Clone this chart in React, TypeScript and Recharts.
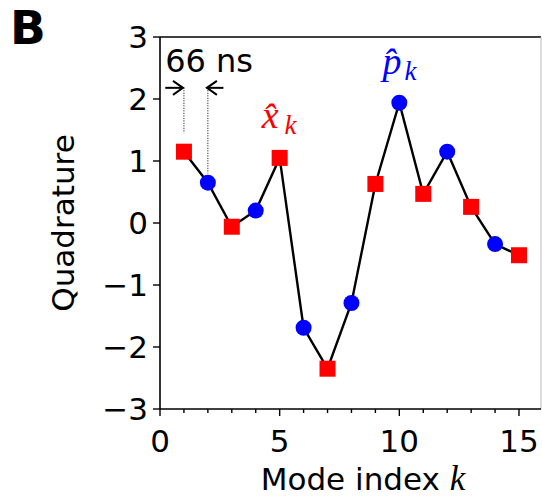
import {
  Line,
  LineChart,
  ReferenceDot,
  ReferenceLine,
  XAxis,
  YAxis,
} from "recharts";

// Mode index k and measured quadrature (odd k -> x̂, even k -> p̂)
const modeIndex = [1, 2, 3, 4, 5, 6, 7, 8, 9, 10, 11, 12, 13, 14, 15];
const quadrature = [
  1.15, 0.65, -0.06, 0.2, 1.05, -1.69, -2.35, -1.29, 0.63, 1.94, 0.47, 1.15,
  0.26, -0.34, -0.52,
];
const xTicks = [0, 1, 2, 3, 4, 5, 6, 7, 8, 9, 10, 11, 12, 13, 14, 15];
const xLabels = [0, 5, 10, 15];
const yTicks = [-3, -2, -1, 0, 1, 2, 3];

const SANS = "'DejaVu Sans', sans-serif";
const SERIF = "'Liberation Serif', 'DejaVu Serif', serif";
const RED = "#ff0000";
const BLUE = "#0000ff";

const data = modeIndex.map((k, i) => ({ k, q: quadrature[i] }));

const fmt = (v: number) => (v < 0 ? `\u2212${Math.abs(v)}` : `${v}`);

function XTick(props: any) {
  const { x, y, payload } = props;
  const major = xLabels.includes(payload.value);
  return (
    <g>
      <line x1={x} x2={x} y1={y} y2={y + (major ? 7 : 4)} stroke="#000" strokeWidth={1.4} />
      {major && (
        <text x={x} y={y + 43} textAnchor="middle" fontSize={31} fontFamily={SANS} fill="#000">
          {payload.value}
        </text>
      )}
    </g>
  );
}

function YTick(props: any) {
  const { x, y, payload } = props;
  return (
    <g>
      <line x1={x - 7} x2={x} y1={y} y2={y} stroke="#000" strokeWidth={1.4} />
      <text x={x - 12} y={y + 11} textAnchor="end" fontSize={31} fontFamily={SANS} fill="#000">
        {fmt(payload.value)}
      </text>
    </g>
  );
}

function Marker(props: any) {
  const { cx, cy, payload } = props;
  if (cx == null || cy == null) return <g key={`m-${payload.k}`} />;
  if (payload.k % 2 === 1) {
    return <rect key={`m-${payload.k}`} x={cx - 8} y={cy - 8} width={16} height={16} fill={RED} />;
  }
  return <circle key={`m-${payload.k}`} cx={cx} cy={cy} r={8} fill={BLUE} />;
}

const arrowRight = (p: any) => (
  <path d={`M${p.cx - 10},${p.cy - 7} L${p.cx},${p.cy} L${p.cx - 10},${p.cy + 7}`} fill="none" stroke="#000" strokeWidth={2} />
);
const arrowLeft = (p: any) => (
  <path d={`M${p.cx + 10},${p.cy - 7} L${p.cx},${p.cy} L${p.cx + 10},${p.cy + 7}`} fill="none" stroke="#000" strokeWidth={2} />
);

export default function App() {
  return (
    <div style={{ position: "absolute", left: 0, top: 0, width: 542, height: 500, background: "#fff" }}>
      <LineChart width={542} height={500} data={data} margin={{ top: 37, right: 1, bottom: 0, left: 0 }}>
        <XAxis
          dataKey="k"
          type="number"
          domain={[0, 15.92]}
          ticks={xTicks}
          interval={0}
          tick={<XTick />}
          tickSize={0}
          tickMargin={0}
          tickLine={false}
          height={91}
          stroke="#000"
          strokeWidth={1.6}
          allowDataOverflow
        />
        <YAxis
          type="number"
          domain={[-3, 3]}
          ticks={yTicks}
          interval={0}
          tick={<YTick />}
          tickSize={0}
          tickMargin={0}
          tickLine={false}
          width={160}
          stroke="#000"
          strokeWidth={1.6}
        />
        <ReferenceLine y={3} stroke="#000" strokeWidth={1.6} />
        <ReferenceLine x={15.92} stroke="#bbb" strokeWidth={1} />

        {/* 66 ns spacing marker */}
        <ReferenceLine segment={[{ x: 1, y: 2.18 }, { x: 1, y: 1.45 }]} stroke="#000" strokeDasharray="1 1.5" strokeWidth={1} />
        <ReferenceLine segment={[{ x: 2, y: 2.18 }, { x: 2, y: 0.8 }]} stroke="#000" strokeDasharray="1 1.5" strokeWidth={1} />
        <ReferenceLine segment={[{ x: 0.22, y: 2.18 }, { x: 0.96, y: 2.18 }]} stroke="#000" strokeWidth={2} />
        <ReferenceLine segment={[{ x: 1.96, y: 2.18 }, { x: 2.65, y: 2.18 }]} stroke="#000" strokeWidth={2} />
        <ReferenceDot x={0.96} y={2.18} shape={arrowRight} />
        <ReferenceDot x={1.96} y={2.18} shape={arrowLeft} />
        <ReferenceDot
          x={2.05}
          y={2.62}
          shape={(p: any) => (
            <text x={p.cx} y={p.cy + 11} textAnchor="middle" fontSize={32} fontFamily={SANS} fill="#000">
              66 ns
            </text>
          )}
        />

        <Line
          dataKey="q"
          stroke="#000"
          strokeWidth={2.4}
          dot={(p: any) => <Marker {...p} />}
          activeDot={false}
          isAnimationActive={false}
        />

        {/* series labels */}
        <ReferenceDot
          x={4.25}
          y={1.53}
          shape={(p: any) => (
            <text x={p.cx} y={p.cy} fill={RED} fontFamily={SERIF} fontStyle="italic">
              <tspan fontSize={38}>{"x\u0302"}</tspan>
              <tspan fontSize={27} dx={6} dy={6}>k</tspan>
            </text>
          )}
        />
        <ReferenceDot
          x={9.3}
          y={2.4}
          shape={(p: any) => (
            <text x={p.cx} y={p.cy} fill={BLUE} fontFamily={SERIF} fontStyle="italic">
              <tspan fontSize={38}>{"p\u0302"}</tspan>
              <tspan fontSize={27} dx={3} dy={6}>k</tspan>
            </text>
          )}
        />
      </LineChart>

      <div style={{ position: "absolute", left: 10, top: 3, fontFamily: SANS, fontWeight: "bold", fontSize: 47, lineHeight: "50px" }}>
        B
      </div>
      <svg width={542} height={500} style={{ position: "absolute", left: 0, top: 0, pointerEvents: "none" }}>
        <text
          transform="translate(74,223) rotate(-90)"
          textAnchor="middle"
          fontSize={31}
          fontFamily={SANS}
          fill="#000"
        >
          Quadrature
        </text>
        <text x={363} y={490} textAnchor="middle" fontSize={31} fontFamily={SANS} fill="#000">
          Mode index{" "}
          <tspan fontFamily={SERIF} fontStyle="italic" fontSize={35}>k</tspan>
        </text>
      </svg>
    </div>
  );
}
